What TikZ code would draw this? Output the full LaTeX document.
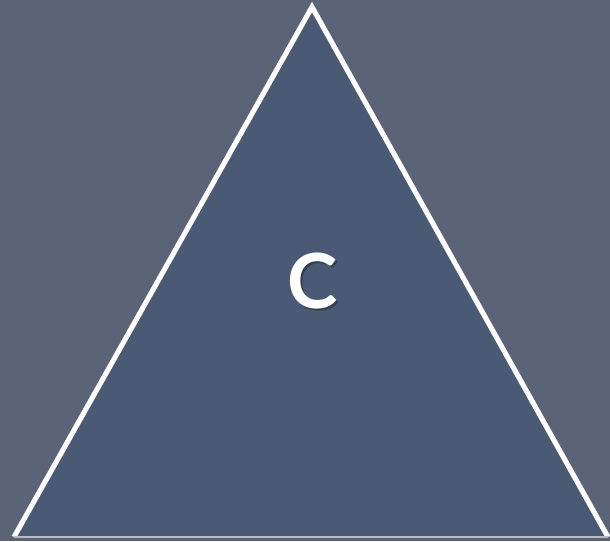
\documentclass[tikz,border=0pt]{standalone}
\usepackage{fontspec}
\setmainfont{Lato}
\usetikzlibrary{positioning, calc}
\definecolor{slate}{HTML}{5B6477}
\definecolor{slatedark}{HTML}{4B5A74}

\begin{document}
\begin{tikzpicture}[
    x=0.025cm, y=-0.025cm,
    edge/.style={draw=white, line width=3.6pt, line join=miter},
    letter/.style={font=\fontsize{54}{54}\selectfont\bfseries, text=white}
]
% background
\fill[slate] (0,0) rectangle (610,541);
\useasboundingbox (0,0) rectangle (610,541);
% triangle
\coordinate (top) at (312,7);
\coordinate (left) at (14,537);
\coordinate (right) at (608,537);
\fill[slatedark] (top) -- (left) -- (right) -- cycle;
\draw[edge] (left) -- (top) -- (right);
\draw[white!60!slatedark, line width=0.8pt] (left) -- (right);
% label
\node[letter, text=black, opacity=0.3] (shadow) at (315,283) {C};
\node[letter] (label) at (313,281) {C};
\end{tikzpicture}
\end{document}
